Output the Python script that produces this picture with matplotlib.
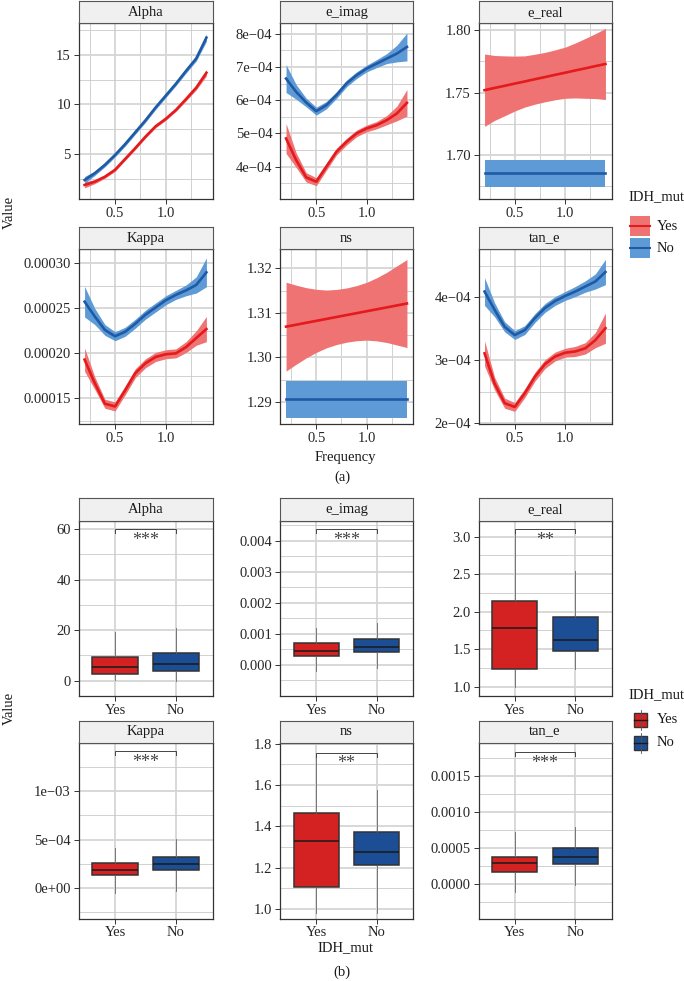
import numpy as np
import matplotlib
matplotlib.use('Agg')
import matplotlib.pyplot as plt
from matplotlib.patches import Rectangle
from matplotlib.lines import Line2D
from matplotlib.ticker import FixedLocator, FixedFormatter
import matplotlib.transforms as mtransforms

plt.rcParams['font.family'] = ['Liberation Serif', 'DejaVu Serif']
plt.rcParams['axes.unicode_minus'] = True

# ---------------- DATA ----------------
variables = ['Alpha', 'e_imag', 'e_real', 'Kappa', 'ns', 'tan_e']
groups = ['Yes', 'No']
freq = [0.2, 0.3, 0.4, 0.5, 0.6, 0.7, 0.8, 0.9, 1.0, 1.1, 1.2, 1.3, 1.4]

# smoothed means (Yes / No) and ribbon half widths
alpha_yes = [1.87, 2.2, 2.7, 3.4, 4.5, 5.6, 6.75, 7.8, 8.55, 9.45, 10.55, 11.7, 13.2]
alpha_yes_hw = [0.3, 0.2, 0.15, 0.15, 0.15, 0.15, 0.15, 0.15, 0.15, 0.15, 0.18, 0.22, 0.32]
alpha_no = [2.37, 3.05, 3.9, 4.9, 6.0, 7.2, 8.4, 9.7, 10.9, 12.1, 13.4, 14.65, 16.75]
alpha_no_hw = [0.35, 0.22, 0.2, 0.2, 0.2, 0.2, 0.2, 0.2, 0.2, 0.2, 0.22, 0.26, 0.38]

e_imag_yes = [4.85e-4, 4.2e-4, 3.68e-4, 3.55e-4, 4.0e-4, 4.45e-4, 4.75e-4, 5.0e-4, 5.15e-4, 5.25e-4, 5.4e-4, 5.6e-4, 5.92e-4]
e_imag_yes_hw = [0.45e-4, 0.22e-4, 0.14e-4, 0.12e-4, 0.11e-4, 0.1e-4, 0.1e-4, 0.1e-4, 0.1e-4, 0.11e-4, 0.14e-4, 0.22e-4, 0.4e-4]
e_imag_no = [6.65e-4, 6.25e-4, 5.93e-4, 5.67e-4, 5.85e-4, 6.15e-4, 6.5e-4, 6.75e-4, 6.95e-4, 7.1e-4, 7.25e-4, 7.4e-4, 7.6e-4]
e_imag_no_hw = [0.42e-4, 0.22e-4, 0.13e-4, 0.12e-4, 0.11e-4, 0.1e-4, 0.1e-4, 0.1e-4, 0.1e-4, 0.12e-4, 0.15e-4, 0.25e-4, 0.42e-4]

e_real_yes = [1.7520, 1.7538, 1.7555, 1.7573, 1.7590, 1.7608, 1.7625, 1.7643, 1.7660, 1.7678, 1.7695, 1.7713, 1.7730]
e_real_yes_hw = [0.029, 0.026, 0.024, 0.022, 0.0205, 0.020, 0.0198, 0.020, 0.0205, 0.022, 0.024, 0.026, 0.0285]
e_real_no = [1.6853] * 13
e_real_no_hw = [0.0105] * 13

kappa_yes = [1.93e-4, 1.67e-4, 1.44e-4, 1.41e-4, 1.59e-4, 1.78e-4, 1.89e-4, 1.96e-4, 1.99e-4, 2.0e-4, 2.07e-4, 2.17e-4, 2.27e-4]
kappa_yes_hw = [0.13e-4, 0.07e-4, 0.05e-4, 0.05e-4, 0.05e-4, 0.05e-4, 0.05e-4, 0.05e-4, 0.05e-4, 0.05e-4, 0.06e-4, 0.08e-4, 0.14e-4]
kappa_no = [2.574e-4, 2.41e-4, 2.26e-4, 2.19e-4, 2.24e-4, 2.33e-4, 2.43e-4, 2.51e-4, 2.59e-4, 2.65e-4, 2.70e-4, 2.76e-4, 2.90e-4]
kappa_no_hw = [0.17e-4, 0.09e-4, 0.06e-4, 0.05e-4, 0.05e-4, 0.05e-4, 0.05e-4, 0.05e-4, 0.05e-4, 0.05e-4, 0.06e-4, 0.09e-4, 0.16e-4]

ns_yes = [1.3069, 1.30733, 1.30777, 1.3082, 1.30863, 1.30907, 1.3095, 1.30993, 1.31037, 1.3108, 1.31123, 1.31167, 1.3121]
ns_yes_hw = [0.0100, 0.0089, 0.0079, 0.0071, 0.0065, 0.0062, 0.0061, 0.0062, 0.0065, 0.0071, 0.0079, 0.0089, 0.0099]
ns_no = [1.29055] * 13
ns_no_hw = [0.0041] * 13

tan_e_yes = [3.11e-4, 2.63e-4, 2.32e-4, 2.26e-4, 2.48e-4, 2.74e-4, 2.94e-4, 3.06e-4, 3.12e-4, 3.14e-4, 3.19e-4, 3.32e-4, 3.51e-4]
tan_e_yes_hw = [0.2e-4, 0.1e-4, 0.08e-4, 0.07e-4, 0.07e-4, 0.07e-4, 0.07e-4, 0.07e-4, 0.07e-4, 0.08e-4, 0.09e-4, 0.12e-4, 0.24e-4]
tan_e_no = [4.09e-4, 3.80e-4, 3.53e-4, 3.40e-4, 3.48e-4, 3.67e-4, 3.83e-4, 3.94e-4, 4.02e-4, 4.09e-4, 4.17e-4, 4.25e-4, 4.40e-4]
tan_e_no_hw = [0.22e-4, 0.11e-4, 0.08e-4, 0.07e-4, 0.07e-4, 0.07e-4, 0.07e-4, 0.07e-4, 0.07e-4, 0.08e-4, 0.09e-4, 0.12e-4, 0.2e-4]

smooth = {
    'Alpha': (alpha_yes, alpha_yes_hw, alpha_no, alpha_no_hw),
    'e_imag': (e_imag_yes, e_imag_yes_hw, e_imag_no, e_imag_no_hw),
    'e_real': (e_real_yes, e_real_yes_hw, e_real_no, e_real_no_hw),
    'Kappa': (kappa_yes, kappa_yes_hw, kappa_no, kappa_no_hw),
    'ns': (ns_yes, ns_yes_hw, ns_no, ns_no_hw),
    'tan_e': (tan_e_yes, tan_e_yes_hw, tan_e_no, tan_e_no_hw),
}

line_ylim = {
    'Alpha': (0.45, 18.2), 'e_imag': (3.03e-4, 8.31e-4), 'e_real': (1.6648, 1.8056),
    'Kappa': (1.215e-4, 3.156e-4), 'ns': (1.285, 1.3243), 'tan_e': (1.99e-4, 4.76e-4),
}
line_yticks = {
    'Alpha': [5, 10, 15], 'e_imag': [4e-4, 5e-4, 6e-4, 7e-4, 8e-4], 'e_real': [1.70, 1.75, 1.80],
    'Kappa': [1.5e-4, 2.0e-4, 2.5e-4, 3.0e-4], 'ns': [1.29, 1.30, 1.31, 1.32], 'tan_e': [2e-4, 3e-4, 4e-4],
}
line_yticklabels = {
    'Alpha': ['5', '10', '15'],
    'e_imag': ['4e\u221204', '5e\u221204', '6e\u221204', '7e\u221204', '8e\u221204'],
    'e_real': ['1.70', '1.75', '1.80'],
    'Kappa': ['0.00015', '0.00020', '0.00025', '0.00030'],
    'ns': ['1.29', '1.30', '1.31', '1.32'],
    'tan_e': ['2e\u221204', '3e\u221204', '4e\u221204'],
}
line_yminor = {
    'Alpha': [2.5, 7.5, 12.5, 17.5], 'e_imag': [3.5e-4, 4.5e-4, 5.5e-4, 6.5e-4, 7.5e-4],
    'e_real': [1.675, 1.725, 1.775], 'Kappa': [1.25e-4, 1.75e-4, 2.25e-4, 2.75e-4],
    'ns': [1.285, 1.295, 1.305, 1.315], 'tan_e': [2.5e-4, 3.5e-4, 4.5e-4],
}
freq_ticks = [0.5, 1.0]
freq_ticklabels = ['0.5', '1.0']
freq_minor = [0.25, 0.75, 1.25]

# boxplot statistics: (whislo, q1, med, q3, whishi) for Yes, No
box_stats = {
    'Alpha': [(0.3, 2.63, 5.27, 9.24, 19.4), (0.0, 3.96, 6.73, 10.83, 20.7)],
    'e_imag': [(-0.21e-3, 0.30e-3, 0.461e-3, 0.697e-3, 1.18e-3), (-0.107e-3, 0.407e-3, 0.59e-3, 0.836e-3, 1.34e-3)],
    'e_real': [(1.0, 1.231, 1.778, 2.147, 3.08), (1.23, 1.48, 1.618, 1.924, 2.547)],
    'Kappa': [(-0.52e-4, 1.31e-4, 1.90e-4, 2.59e-4, 4.14e-4), (-0.24e-4, 1.86e-4, 2.48e-4, 3.21e-4, 5.10e-4)],
    'ns': [(0.98, 1.108, 1.330, 1.467, 1.74), (0.98, 1.212, 1.274, 1.373, 1.575)],
    'tan_e': [(-1.07e-4, 1.70e-4, 2.95e-4, 3.78e-4, 7.24e-4), (-0.14e-4, 2.77e-4, 3.69e-4, 4.94e-4, 7.84e-4)],
}
sig_labels = {'Alpha': '***', 'e_imag': '***', 'e_real': '**', 'Kappa': '***', 'ns': '**', 'tan_e': '***'}
sig_y = {'Alpha': 60, 'e_imag': 4.365e-3, 'e_real': 3.098, 'Kappa': 14.07e-4, 'ns': 1.757, 'tan_e': 18.23e-4}

box_ylim = {
    'Alpha': (-6.1, 63.4), 'e_imag': (-1.0e-3, 4.64e-3), 'e_real': (0.876, 3.213),
    'Kappa': (-3.14e-4, 14.9e-4), 'ns': (0.953, 1.802), 'tan_e': (-4.8e-4, 19.48e-4),
}
box_yticks = {
    'Alpha': [0, 20, 40, 60], 'e_imag': [0, 1e-3, 2e-3, 3e-3, 4e-3], 'e_real': [1.0, 1.5, 2.0, 2.5, 3.0],
    'Kappa': [0, 5e-4, 1e-3], 'ns': [1.0, 1.2, 1.4, 1.6, 1.8], 'tan_e': [0, 5e-4, 1e-3, 1.5e-3],
}
box_yticklabels = {
    'Alpha': ['0', '20', '40', '60'],
    'e_imag': ['0.000', '0.001', '0.002', '0.003', '0.004'],
    'e_real': ['1.0', '1.5', '2.0', '2.5', '3.0'],
    'Kappa': ['0e+00', '5e\u221204', '1e\u221203'],
    'ns': ['1.0', '1.2', '1.4', '1.6', '1.8'],
    'tan_e': ['0.0000', '0.0005', '0.0010', '0.0015'],
}
box_yminor = {
    'Alpha': [10, 30, 50], 'e_imag': [-0.5e-3, 0.5e-3, 1.5e-3, 2.5e-3, 3.5e-3, 4.5e-3],
    'e_real': [1.25, 1.75, 2.25, 2.75], 'Kappa': [-2.5e-4, 2.5e-4, 7.5e-4, 12.5e-4],
    'ns': [1.1, 1.3, 1.5, 1.7], 'tan_e': [-2.5e-4, 2.5e-4, 7.5e-4, 12.5e-4, 17.5e-4],
}

# ---------------- STYLE ----------------
RED_LINE, BLUE_LINE = '#E41A1C', '#1F5AA6'
RED_FILL, BLUE_FILL = '#EF7373', '#5E9BD6'
RED_BOX, BLUE_BOX = '#D42222', '#1C4E96'
TXT = '#262626'
EDGE = '#333333'
FS = 10.5

W, H = 684, 981
fig = plt.figure(figsize=(W / 100, H / 100), dpi=100)

cols = [(78.5, 212.5), (280, 413), (478.5, 611.5)]
rows_a = [(1, 23.3, 199), (227.3, 249.3, 424)]
rows_b = [(498.3, 520.7, 696), (720.5, 743.3, 918.7)]


def px_axes(x0, y0, x1, y1):
    return fig.add_axes([x0 / W, 1 - y1 / H, (x1 - x0) / W, (y1 - y0) / H])


def style_panel(ax):
    ax.set_facecolor('white')
    ax.set_axisbelow(True)
    for s in ax.spines.values():
        s.set_color(EDGE)
        s.set_linewidth(0.9)
    ax.grid(True, which='major', color='#D6D6D6', lw=1.3)
    ax.grid(True, which='minor', color='#CACACA', lw=0.6)
    ax.tick_params(which='major', length=3.5, width=0.7, color=EDGE, labelsize=FS,
                   labelcolor=TXT, pad=2)
    ax.tick_params(which='minor', length=0)


def add_strip(x0, x1, ys, yp, label):
    sa = px_axes(x0, ys, x1, yp)
    sa.set_facecolor('#F0F0F0')
    sa.set_xticks([])
    sa.set_yticks([])
    for s in sa.spines.values():
        s.set_color('#555555')
        s.set_linewidth(0.8)
    sa.text(0.5, 0.5, label, transform=sa.transAxes, ha='center', va='center',
            fontsize=FS, color='#1a1a1a')


# ---------- (a) smooth curves ----------
for i, var in enumerate(variables):
    r, c = divmod(i, 3)
    ys, yp, yb = rows_a[r]
    x0, x1 = cols[c]
    ax = px_axes(x0, yp, x1, yb)
    style_panel(ax)
    yy, yhw, ny, nhw = smooth[var]
    yy, yhw, ny, nhw = map(np.asarray, (yy, yhw, ny, nhw))
    ax.fill_between(freq, yy - yhw, yy + yhw, color=RED_FILL, lw=0, zorder=2)
    ax.fill_between(freq, ny - nhw, ny + nhw, color=BLUE_FILL, lw=0, zorder=2)
    ax.plot(freq, yy, color=RED_LINE, lw=1.9, zorder=3, solid_joinstyle='round')
    ax.plot(freq, ny, color=BLUE_LINE, lw=1.9, zorder=3, solid_joinstyle='round')
    ax.set_xlim(0.14, 1.46)
    ax.set_ylim(*line_ylim[var])
    ax.xaxis.set_major_locator(FixedLocator(freq_ticks))
    ax.xaxis.set_major_formatter(FixedFormatter(freq_ticklabels))
    ax.xaxis.set_minor_locator(FixedLocator(freq_minor))
    ax.yaxis.set_major_locator(FixedLocator(line_yticks[var]))
    ax.yaxis.set_major_formatter(FixedFormatter(line_yticklabels[var]))
    ax.yaxis.set_minor_locator(FixedLocator(line_yminor[var]))
    add_strip(x0, x1, ys, yp, var)

# ---------- (b) boxplots ----------
for i, var in enumerate(variables):
    r, c = divmod(i, 3)
    ys, yp, yb = rows_b[r]
    x0, x1 = cols[c]
    ax = px_axes(x0, yp, x1, yb)
    style_panel(ax)
    stats = []
    for g, st in zip(groups, box_stats[var]):
        lo, q1, med, q3, hi = st
        stats.append(dict(label=g, whislo=lo, q1=q1, med=med, q3=q3, whishi=hi, fliers=[]))
    bp = ax.bxp(stats, positions=[1, 2], widths=0.75, patch_artist=True, showfliers=False,
                showcaps=False,
                boxprops=dict(edgecolor=EDGE, linewidth=1.1),
                medianprops=dict(color='#1a1a1a', linewidth=1.1),
                whiskerprops=dict(color='#666666', linewidth=0.6), zorder=3)
    for patch, fc in zip(bp['boxes'], [RED_BOX, BLUE_BOX]):
        patch.set_facecolor(fc)
    ax.set_xlim(0.4, 2.6)
    lo_, hi_ = box_ylim[var]
    ax.set_ylim(lo_, hi_)
    ax.xaxis.set_major_locator(FixedLocator([1, 2]))
    ax.xaxis.set_major_formatter(FixedFormatter(groups))
    ax.yaxis.set_major_locator(FixedLocator(box_yticks[var]))
    ax.yaxis.set_major_formatter(FixedFormatter(box_yticklabels[var]))
    ax.yaxis.set_minor_locator(FixedLocator(box_yminor[var]))
    # significance bracket
    by = sig_y[var]
    tip = (hi_ - lo_) * 4 / 176
    ax.plot([1, 1, 2, 2], [by - tip, by, by, by - tip], color='#444444', lw=0.7, zorder=4,
            solid_joinstyle='miter')
    tr = mtransforms.offset_copy(ax.transData, fig=fig, y=-2.0, units='points')
    ax.text(1.5, by, sig_labels[var], transform=tr, ha='center', va='top', fontsize=FS + 2.5,
            color='#444444', zorder=5)
    add_strip(x0, x1, ys, yp, var)

# ---------- overlay: titles & legends ----------
ov = fig.add_axes([0, 0, 1, 1])
ov.set_xlim(0, W)
ov.set_ylim(H, 0)
ov.axis('off')
ov.patch.set_alpha(0)

ov.text(9, 212.5, 'Value', rotation=90, ha='center', va='center', fontsize=FS, color='#1a1a1a')
ov.text(9, 708.5, 'Value', rotation=90, ha='center', va='center', fontsize=FS, color='#1a1a1a')
ov.text(345, 457, 'Frequency', ha='center', va='center', fontsize=FS, color='#1a1a1a')
ov.text(342, 477.5, '(a)', ha='center', va='center', fontsize=FS, color='#1a1a1a')
ov.text(345, 948, 'IDH_mut', ha='center', va='center', fontsize=FS, color='#1a1a1a')
ov.text(342, 972, '(b)', ha='center', va='center', fontsize=FS, color='#1a1a1a')

# legend (a)
ov.text(628, 197, 'IDH_mut', ha='left', va='center', fontsize=FS, color='#1a1a1a')
for k, (g, fc, lc) in enumerate(zip(groups, [RED_FILL, BLUE_FILL], [RED_LINE, BLUE_LINE])):
    cy = 226 + k * 22
    ov.add_patch(Rectangle((630, cy - 10), 20, 20, facecolor=fc, edgecolor='none'))
    ov.add_line(Line2D([630, 650], [cy, cy], color=lc, lw=1.5))
    ov.text(657, cy, g, ha='left', va='center', fontsize=FS, color='#1a1a1a')

# legend (b)
ov.text(628, 695, 'IDH_mut', ha='left', va='center', fontsize=FS, color='#1a1a1a')
for k, (g, fc) in enumerate(zip(groups, [RED_BOX, BLUE_BOX])):
    cy = 719.5 + k * 23
    ov.add_line(Line2D([640.5, 640.5], [cy - 10, cy + 10], color='#555555', lw=0.6))
    ov.add_patch(Rectangle((634, cy - 7), 13, 14, facecolor=fc, edgecolor=EDGE, lw=1.0))
    ov.add_line(Line2D([634, 647], [cy, cy], color='#1a1a1a', lw=1.0))
    ov.text(657, cy, g, ha='left', va='center', fontsize=FS, color='#1a1a1a')

fig.savefig('out.png', dpi=100, facecolor='white')
